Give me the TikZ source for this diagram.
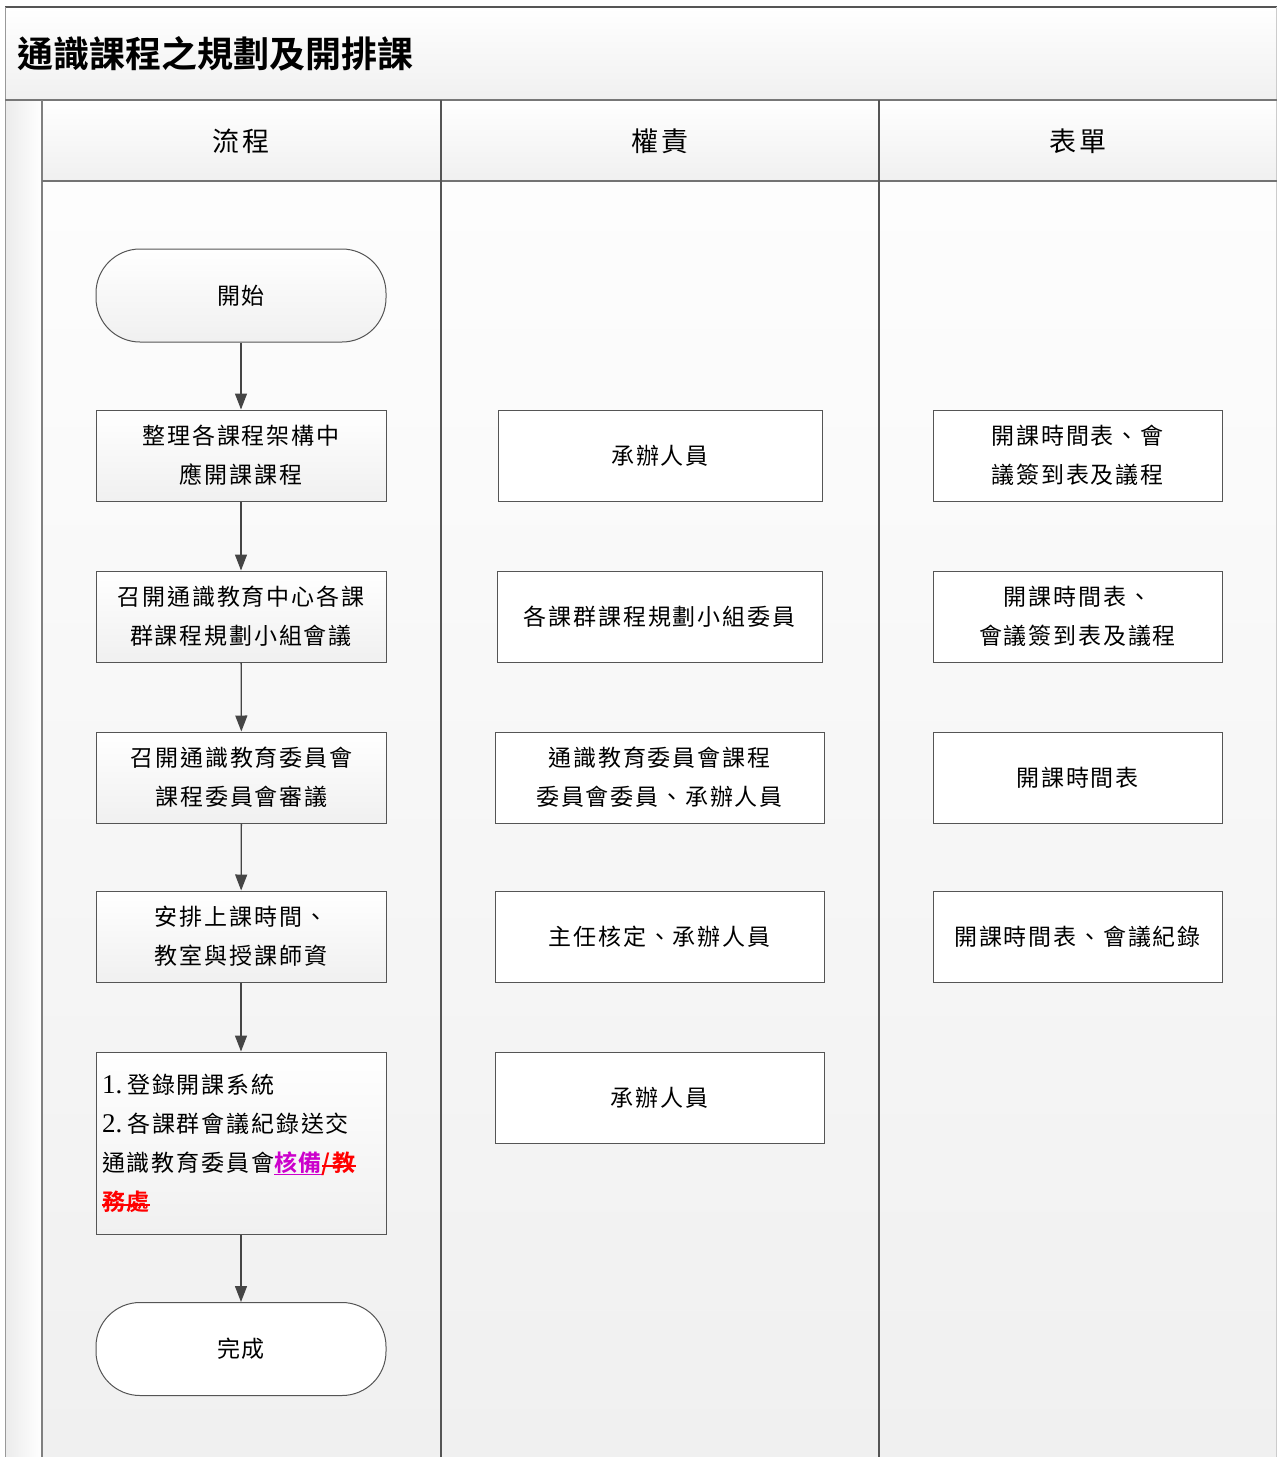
\documentclass[tikz,border=0pt]{standalone}
\usepackage{fontspec}
\usetikzlibrary{arrows.meta}
\setmainfont{Liberation Serif}
\newfontfamily\cjk[LetterSpace=8,BoldFont={Noto Sans CJK TC Bold}]{Noto Sans CJK TC}
\newfontfamily\cjktitle{Noto Sans CJK TC Bold}
\newfontfamily\digitfont{Liberation Serif}
\definecolor{laneb}{HTML}{F0F0F0}
\definecolor{lanet}{HTML}{FDFDFD}
\definecolor{stripl}{HTML}{EBEBEB}
\definecolor{edge}{HTML}{555555}
\definecolor{arrc}{HTML}{454545}
\definecolor{purp}{RGB}{204,0,204}
\newsavebox\mytextbox
\newcommand\myuline[1]{\leavevmode\sbox\mytextbox{#1}\rlap{\rule[-4pt]{\wd\mytextbox}{1.3pt}}\usebox\mytextbox}
\newcommand\mysout[1]{\leavevmode\sbox\mytextbox{#1}\usebox\mytextbox\llap{\rule[4.5pt]{\wd\mytextbox}{1.6pt}}}
\tikzset{
  boxtext/.style={font={\cjk\fontsize{23}{39}\selectfont}, align=center, inner sep=0pt},
  flowbox/.style={boxtext, draw=edge, line width=1pt, top color=white, bottom color=laneb,
    minimum width=290pt, minimum height=91pt},
  plainbox/.style={boxtext, draw=edge, line width=1pt, fill=white,
    minimum height=91pt},
  term/.style={flowbox, rounded corners=44pt, minimum height=93pt},
  arr/.style={draw=arrc, line width=1.3pt, -{Triangle[length=16pt,width=12pt]}},
  headtext/.style={font={\cjk\fontsize{27}{30}\selectfont}, inner sep=0pt},
}
\begin{document}
\begin{tikzpicture}[x=1pt,y=-1pt]
\useasboundingbox (0,0) rectangle (1277,1457);
\fill[white] (0,0) rectangle (1277,1457);
% title band
\shade[top color=white, bottom color=laneb] (5,7) rectangle (1277,100);
% left strip
\shade[left color=stripl, right color=white] (5,100) rectangle (42,1457);
% header row
\shade[top color=white, bottom color=laneb] (42,100) rectangle (1277,181);
% lanes
\shade[top color=lanet, bottom color=laneb] (42,181) rectangle (441,1457);
\shade[top color=lanet, bottom color=laneb] (441,181) rectangle (879,1457);
\shade[top color=lanet, bottom color=laneb] (879,181) rectangle (1277,1457);
% frame lines
\draw[edge, line width=1.5pt] (5,7) -- (1277,7);
\draw[gray!80, line width=1pt] (5,7) -- (5,1457);
\draw[gray!40, line width=1pt] (1276,7) -- (1276,1457);
\draw[edge!80, line width=1.5pt] (5,100) -- (1277,100);
\draw[gray, line width=1.5pt] (42,100) -- (42,1457);
\draw[gray!90!black, line width=2pt] (42,181) -- (1277,181);
\draw[edge, line width=2pt] (441,100) -- (441,1457);
\draw[edge, line width=2pt] (879,100) -- (879,1457);

% title and headers
\node[anchor=west, inner sep=0pt, font={\cjktitle\fontsize{36}{40}\selectfont}] (title) at (17,54) {通識課程之規劃及開排課};
\node[headtext] (h1) at (241,141) {流程};
\node[headtext] (h2) at (660,141) {權責};
\node[headtext] (h3) at (1078,141) {表單};

% flow column
\node[term] (s) at (241,295.5) {開始};
\node[flowbox] (b1) at (241,455.5) {整理各課程架構中\\應開課課程};
\node[flowbox] (b2) at (241,616.5) {召開通識教育中心各課\\群課程規劃小組會議};
\node[flowbox] (b3) at (241.5,777.5) {召開通識教育委員會\\課程委員會審議};
\node[flowbox] (b4) at (241,936.5) {安排上課時間、\\教室與授課師資};
\node[flowbox, minimum height=182pt, text width=278pt, inner xsep=6pt, align=left] (b5) at (241,1143)
  {{\digitfont\fontsize{27}{39}\selectfont 1.}\hspace{5pt}登錄開課系統\\
   {\digitfont\fontsize{27}{39}\selectfont 2.}\hspace{5pt}各課群會議紀錄送交\\
   通識教育委員會{\bfseries\color{purp}\myuline{核備}}{\bfseries\color{red}\mysout{/教}}\\
   {\bfseries\color{red}\mysout{務處}}};
\node[term, top color=white, bottom color=white] (e) at (241,1349) {完成};

\draw[arr] (s) -- (b1);
\draw[arr] (b1) -- (b2);
\draw[arr] (b2) -- (b3);
\draw[arr] (b3) -- (b4);
\draw[arr] (b4) -- (b5);
\draw[arr] (b5) -- (e);

% responsibility column
\node[plainbox, minimum width=324pt] (r1) at (660,455.5) {承辦人員};
\node[plainbox, minimum width=325pt] (r2) at (659.5,616.5) {各課群課程規劃小組委員};
\node[plainbox, minimum width=329pt] (r3) at (659.5,777.5) {通識教育委員會課程\\委員會委員、承辦人員};
\node[plainbox, minimum width=329pt] (r4) at (659.5,936.5) {主任核定、承辦人員};
\node[plainbox, minimum width=329pt] (r5) at (659.5,1097.5) {承辦人員};

% forms column
\node[plainbox, minimum width=289pt] (f1) at (1077.5,455.5) {開課時間表、會\\議簽到表及議程};
\node[plainbox, minimum width=289pt] (f2) at (1077.5,616.5) {開課時間表、\\會議簽到表及議程};
\node[plainbox, minimum width=289pt] (f3) at (1077.5,777.5) {開課時間表};
\node[plainbox, minimum width=289pt] (f4) at (1077.5,936.5) {開課時間表、會議紀錄};
\end{tikzpicture}
\end{document}
